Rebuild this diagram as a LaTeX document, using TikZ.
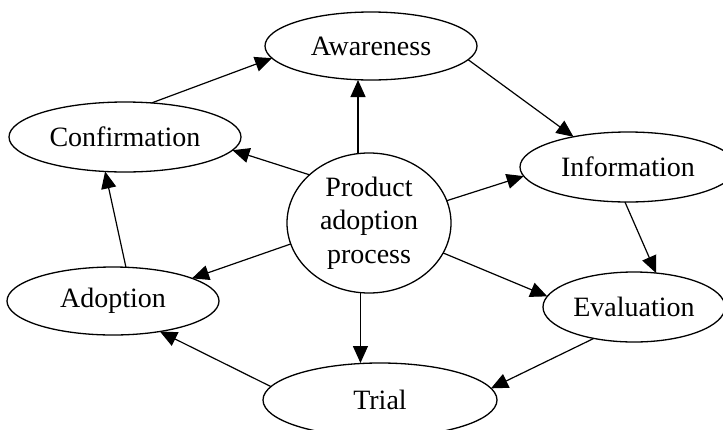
\documentclass[tikz,border=0pt]{standalone}
\usepackage{fontspec}
\setmainfont{Liberation Serif}
\usetikzlibrary{shapes.geometric,arrows.meta}
\begin{document}
\begin{tikzpicture}[x=1pt,y=-1pt,
  stage/.style={ellipse,draw,line width=1.3pt,inner sep=0pt,outer sep=0pt,
    font=\fontsize{28}{33.5}\selectfont},
  link/.style={line width=1.2pt,-{Triangle[length=17pt,width=15pt]}}]
\useasboundingbox (0,0) rectangle (723,429);
\clip (0,0) rectangle (723,429);

% stages of the cycle
\node[stage,minimum width=212pt,minimum height=68pt] (aw) at (371,46) {Awareness};
\node[stage,minimum width=232pt,minimum height=70pt] (conf) at (125,137) {Confirmation};
\node[stage,minimum width=216pt,minimum height=70pt] (info) at (628,167) {Information};
\node[stage,minimum width=182pt,minimum height=70pt] (eval) at (634,307) {Evaluation};
\node[stage,minimum width=212pt,minimum height=68pt] (adop) at (113,301) {Adoption};
\node[stage,minimum width=234pt,minimum height=74pt] (trial) at (380,400) {Trial};

% hub
\node[stage,minimum width=164pt,minimum height=140pt,align=center] (core) at (369,223)
  {Product\\adoption\\process};

% arrows from the hub
\draw[link] (core.99) -- (core.99 |- aw.south);
\draw[link] (core.-97) -- (core.-97 |- trial.north);
\draw[link] (core.141) -- (conf.-7);
\draw[link] (core.16) -- (info.185);
\draw[link] (core.-22) -- (eval.173);
\draw[link] (core.195) -- (adop.16);

% arrows round the cycle
\draw[link] (conf.52) -- (aw.187);
\draw[link] (aw.-8) -- (info.151);
\draw[link] (info.-95) -- (eval.57);
\draw[link] (eval.218) -- (trial.6);
\draw[link] (trial.173) -- (adop.-33);
\draw[link] (adop.69) -- (conf.-120);
\end{tikzpicture}
\end{document}
